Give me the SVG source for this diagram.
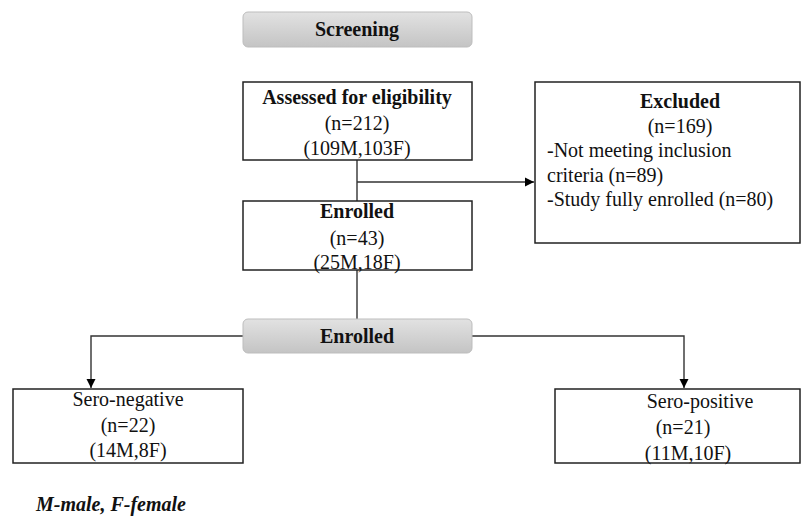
<svg xmlns="http://www.w3.org/2000/svg" width="801" height="517" viewBox="0 0 801 517" font-family="'Liberation Serif', 'Times New Roman', 'DejaVu Serif', serif">
<defs>
<linearGradient id="g" x1="0" y1="0" x2="0" y2="1">
<stop offset="0" stop-color="#e2e2e2"/>
<stop offset="1" stop-color="#c4c4c4"/>
</linearGradient>
<marker id="arr" markerWidth="10" markerHeight="10" refX="9" refY="5" orient="auto" markerUnits="userSpaceOnUse">
<path d="M0,0.5 L9,5 L0,9.5 Z" fill="#000"/>
</marker>
</defs>
<style>
text{font-family:'Liberation Serif','Times New Roman','DejaVu Serif',serif;font-size:20px;fill:#111}
.b{font-weight:bold}
.c{text-anchor:middle}
.box{fill:#fff;stroke:#222;stroke-width:1.5}
.hdr{fill:url(#g);stroke:#bdbdbd;stroke-width:1}
.ln{fill:none;stroke:#333;stroke-width:1.4}
</style>
<rect width="801" height="517" fill="#fff"/>
<g id="connectors">
<path class="ln" d="M357,160 V201"/>
<path class="ln" d="M357,182 H534" marker-end="url(#arr)"/>
<path class="ln" d="M357,270 V319"/>
<path class="ln" d="M243,336 H91 V388" marker-end="url(#arr)"/>
<path class="ln" d="M472,336 H684 V388" marker-end="url(#arr)"/>
</g>
<g id="screening">
<rect class="hdr" x="243" y="12" width="229" height="35" rx="5"/>
<text class="b c" x="357" y="36">Screening</text>
</g>
<g id="assessed">
<rect class="box" x="243" y="82" width="229" height="78"/>
<text class="b c" x="357" y="104">Assessed for eligibility</text>
<text class="c" x="357" y="130">(n=212)</text>
<text class="c" x="357" y="155">(109M,103F)</text>
</g>
<g id="excluded">
<rect class="box" x="535" y="82" width="265" height="161"/>
<text class="b c" x="680" y="108">Excluded</text>
<text class="c" x="680" y="133">(n=169)</text>
<text x="547" y="157">-Not meeting inclusion</text>
<text x="547" y="182">criteria (n=89)</text>
<text x="547" y="206">-Study fully enrolled (n=80)</text>
</g>
<g id="enrolled">
<rect class="box" x="243" y="201" width="229" height="69"/>
<text class="b c" x="357" y="218">Enrolled</text>
<text class="c" x="357" y="245">(n=43)</text>
<text class="c" x="357" y="269">(25M,18F)</text>
</g>
<g id="enrolled-header">
<rect class="hdr" x="243" y="319" width="229" height="34" rx="5"/>
<text class="b c" x="357" y="343">Enrolled</text>
</g>
<g id="sero-negative">
<rect class="box" x="13" y="389" width="230" height="74"/>
<text class="c" x="128" y="406">Sero-negative</text>
<text class="c" x="128" y="432">(n=22)</text>
<text class="c" x="128" y="457">(14M,8F)</text>
</g>
<g id="sero-positive">
<rect class="box" x="555" y="389" width="245" height="74"/>
<text class="c" x="700" y="408">Sero-positive</text>
<text class="c" x="683" y="434">(n=21)</text>
<text class="c" x="688" y="460">(11M,10F)</text>
</g>
<g id="footnote">
<text class="b" x="36" y="511" font-style="italic">M-male, F-female</text>
</g>
</svg>
